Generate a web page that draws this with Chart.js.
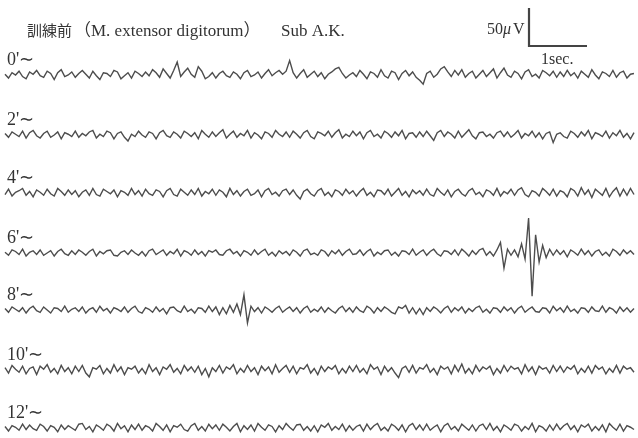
<!DOCTYPE html>
<html>
<head>
<meta charset="utf-8">
<script src="https://cdn.jsdelivr.net/npm/chart.js@4"></script>
<style>
  html, body { margin: 0; padding: 0; background: #ffffff; }
  canvas { display: block; }
</style>
</head>
<body>
<canvas id="emgChart" width="638" height="438"></canvas>
<script>
// EMG traces (uV), one per recording minute, sampled evenly over the sweep
const traceLabels = ["0'", "2'", "4'", "6'", "8'", "10'", "12'"];

const trace0 = [
  1,-4,3,0,5,-2,-5,4,1,6,-1,-3,5,2,-6,3,7,-2,0,4,
  -3,2,6,1,-4,5,-1,-6,3,2,-2,6,4,-5,-1,3,-4,5,2,-2,
  4,-1,7,3,-3,8,2,-4,6,17,-2,4,9,1,-3,11,5,-5,-2,3,
  -4,2,5,-1,-3,4,1,-5,3,6,-2,0,4,-4,2,7,-1,3,6,1,
  5,19,3,-4,2,7,-3,1,5,-2,3,-5,1,4,8,10,2,-4,0,3,
  -2,6,1,-5,4,2,-3,7,-1,-4,5,3,-6,2,6,-1,4,-3,-7,-12,
  2,5,-3,1,8,11,4,-2,6,0,7,-3,2,5,-4,1,6,-2,3,8,
  -4,3,9,0,-3,5,2,-5,4,7,-2,1,-4,6,3,-1,5,-3,4,-2,
  6,-1,3,-4,5,1,-3,7,0,-5,4,2,-2,6,-3,3,5,-4,1,2
];

const trace2 = [
  2,-3,4,1,-2,5,-4,3,6,-1,-4,2,5,-3,0,4,-5,3,1,-2,
  5,-3,2,-1,4,6,-4,1,-2,5,3,-5,2,4,-3,-8,1,-2,5,0,
  -3,4,2,-5,3,6,-1,-3,4,1,-4,5,2,-2,3,-5,6,1,-3,4,
  -2,3,7,-4,1,5,-3,2,-1,6,-4,3,0,-5,4,2,-3,6,1,-2,
  4,-3,5,1,-4,3,6,-2,-5,4,2,-1,5,-3,3,7,-4,1,-2,5,
  -1,4,-5,3,6,-2,1,-4,5,2,-3,4,-1,6,-5,2,3,-3,4,-2,
  5,-1,-7,3,6,-2,4,1,-4,5,-3,2,7,-1,-5,3,4,-2,1,-4,
  3,5,-2,4,-3,1,6,-4,2,-1,5,-3,3,-5,2,4,-10,1,3,-2,
  -4,5,2,-3,4,-1,6,-5,3,1,-2,5,-4,3,-1,6,-3,2,-5,3
];

const trace4 = [
  -2,5,-4,1,3,6,-3,2,-5,4,1,-3,5,-1,-4,6,2,-3,4,-2,
  3,-5,1,4,-3,6,-2,-4,5,2,-1,4,-5,3,1,-3,6,-2,3,-4,
  5,-1,-3,4,2,-5,3,6,-2,-4,5,1,-3,4,-2,6,-4,2,-1,5,
  -3,4,1,-5,6,-2,3,-4,2,5,-3,-1,4,-5,3,6,-2,1,-4,3,
  5,-2,4,-3,-8,2,5,-1,-4,3,6,-3,1,-5,4,2,-3,5,-1,3,
  -4,2,6,-3,1,-5,4,3,-2,5,-4,1,6,-3,2,-5,4,-1,3,-3,
  5,-2,-4,6,1,-3,4,-5,2,5,-1,-4,3,6,-2,1,-5,4,2,-3,
  6,-4,2,-1,5,-3,4,7,-2,-5,3,1,-4,6,2,-3,5,-4,3,1,
  -5,6,3,-4,7,-2,4,-6,5,1,-3,6,-5,2,7,-4,5,-3,6,-2
];

const trace6 = [
  1,-3,4,2,-2,5,-4,1,3,-2,4,-3,0,3,-4,2,5,-1,-3,3,
  -2,4,1,-3,2,5,-4,2,-1,3,4,-3,-4,1,3,-2,4,0,-3,2,
  -4,3,5,-2,1,4,-3,2,-1,5,-4,3,1,-3,4,-2,2,-4,3,1,
  4,-2,-3,3,5,-1,2,-4,3,1,-3,4,-2,2,5,-3,1,-4,3,-1,
  2,-3,4,1,-4,3,5,-2,0,-3,4,2,-4,3,-1,4,-3,2,5,-2,
  -1,4,-3,2,5,-4,1,-2,3,4,-3,1,-4,3,2,-2,5,-3,1,4,
  -3,2,5,-1,-4,3,2,-2,4,-3,5,1,-4,3,-2,4,6,-3,2,-4,
  4,14,-20,5,-3,4,-5,12,-8,46,-57,24,-12,10,-6,5,-3,4,-2,3,
  -5,4,1,-3,5,-2,3,-4,2,4,-3,1,-4,5,2,-3,4,-1,3,-2
];

const trace8 = [
  2,-3,4,1,-2,3,-4,2,5,-1,-3,4,0,-4,3,2,-2,5,-3,1,
  3,-2,4,-4,1,3,-3,5,-1,2,-4,3,1,-2,4,-3,2,5,-2,-4,
  3,1,-3,4,-2,2,-5,3,4,-1,-3,5,-2,1,-4,3,2,-3,5,-2,
  4,-6,3,-5,6,-3,8,-6,20,-17,5,-2,3,-4,4,1,-3,2,5,-3,
  1,4,-2,3,-4,2,5,-3,1,-2,4,-3,3,-1,-4,2,5,-2,3,-3,
  4,-1,-3,5,2,-4,3,-2,4,1,-3,-5,4,2,6,-4,3,-5,2,-6,
  3,-2,4,1,-4,2,5,-3,3,-1,4,-4,2,-2,3,5,-3,1,-4,3,
  2,-3,4,-1,3,-4,2,5,-3,1,4,-2,-3,3,2,-4,5,-1,3,-3,
  5,-2,1,-4,3,2,-3,4,-1,-2,5,-3,3,1,-4,4,-2,3,-3,2
];

const trace10 = [
  3,-4,6,1,-3,5,-5,2,4,-6,5,1,7,-3,2,-5,6,-2,3,-5,
  5,-2,6,-4,-9,3,1,6,-5,2,-4,7,-2,4,-6,3,1,5,-4,2,
  -5,7,-2,3,-6,4,1,7,-3,2,-5,6,-1,4,-3,5,-6,2,-9,3,
  -2,6,-4,4,1,7,-5,2,-3,6,-2,3,-6,5,-1,4,-5,7,-3,2,
  6,-3,5,-5,3,1,7,-4,2,-6,5,-2,4,1,6,-5,2,-4,5,-2,
  6,-3,2,-5,7,1,4,-6,5,-2,3,-4,-10,2,5,-3,6,-4,3,1,
  7,-3,2,-6,5,1,4,-5,6,-2,8,-4,2,-5,6,-2,4,1,5,-6,
  2,-4,6,-2,5,1,3,-5,7,-2,4,-6,5,1,3,-4,6,-2,5,-3,
  4,1,6,-5,2,-3,5,-4,6,1,4,-5,2,-3,6,-4,5,1,3,-3
];

const trace12 = [
  2,-4,3,1,-3,5,-2,4,-1,-3,5,2,-4,3,1,-5,4,-2,3,0,
  -3,5,6,-2,2,-5,4,1,-3,5,2,-4,6,-1,3,-5,4,-2,5,-3,
  3,1,-4,6,2,-3,4,-5,3,1,5,-2,-4,3,6,-3,2,-4,5,-1,
  4,-3,5,1,-4,2,6,-5,3,-2,4,-4,6,1,-3,4,2,-5,3,-2,
  6,1,-3,4,5,-3,2,-4,3,-5,4,1,6,-3,2,-2,5,-4,3,-3,
  2,4,-4,5,-2,3,6,-3,1,-4,5,2,-3,4,-5,3,6,-2,4,-3,
  5,-3,1,4,-5,3,6,-2,2,-4,5,1,-3,4,-4,3,5,-2,6,-3,
  2,-5,4,1,-3,5,3,-4,2,-2,6,-5,3,1,-4,4,-3,5,-2,3,
  6,-2,3,-5,4,1,5,-4,2,-3,4,-5,6,1,-3,5,-4,3,1,-2
];

const traces = [trace0, trace2, trace4, trace6, trace8, trace10, trace12];

// calibration: 50 uV vertical, 1 sec horizontal
const calAmp = 50;
const calTime = 1;

// layout (pixels on the 638x438 page)
const pxPerSec = 58;
const pxPerUv = 38 / 50;
const sweepStartPx = 5;
const sweepEndPx = 634;
const baselinesPx = [75, 135, 193, 253, 310, 370, 428];
const calCornerPx = { x: 529, y: 46 };

const W = 638, H = 438;
const toSec = (px) => (px - sweepStartPx) / pxPerSec;
const toUv = (px) => -px / pxPerUv;

const traceColor = '#4d4d4d';

const datasets = traces.map((vals, k) => {
  const span = toSec(sweepEndPx);
  const base = toUv(baselinesPx[k]);
  return {
    label: traceLabels[k],
    data: vals.map((v, i) => ({ x: i * span / (vals.length - 1), y: base + v })),
    borderColor: traceColor,
    borderWidth: 1.4,
    pointRadius: 0,
    tension: 0,
  };
});

// calibration bar as its own line
const calX = toSec(calCornerPx.x);
const calY = toUv(calCornerPx.y);
datasets.push({
  label: 'cal',
  data: [
    { x: calX, y: calY + calAmp },
    { x: calX, y: calY },
    { x: calX + calTime, y: calY },
  ],
  borderColor: '#444444',
  borderWidth: 2.2,
  pointRadius: 0,
  tension: 0,
});

// text labels drawn on top
const textPlugin = {
  id: 'textLabels',
  afterDraw(chart) {
    const ctx = chart.ctx;
    ctx.save();
    ctx.fillStyle = '#333333';
    ctx.textBaseline = 'alphabetic';
    ctx.textAlign = 'left';

    ctx.font = '15px "Noto Sans CJK JP"';
    ctx.fillText('訓練前', 27, 36);
    ctx.font = '17px "Liberation Serif", "Noto Sans CJK JP"';
    ctx.fillText('（M. extensor digitorum）', 74, 36);
    ctx.fillText('Sub A.K.', 281, 36);

    ctx.font = '16px "Liberation Serif"';
    ctx.fillText('50', 487, 34);
    ctx.font = 'italic 16px "Liberation Serif"';
    ctx.fillText('μ', 503, 34);
    ctx.font = '16px "Liberation Serif"';
    ctx.fillText('V', 513, 34);
    ctx.fillText('1sec.', 541, 64);

    ctx.font = '18px "Liberation Serif"';
    traceLabels.forEach((lab, k) => {
      ctx.fillText(lab + '∼', 7, baselinesPx[k] - 10);
    });
    ctx.restore();
  }
};

new Chart(document.getElementById('emgChart').getContext('2d'), {
  type: 'line',
  data: { datasets: datasets },
  options: {
    responsive: false,
    animation: false,
    layout: { padding: 0 },
    plugins: {
      legend: { display: false },
      tooltip: { enabled: false },
    },
    scales: {
      x: { type: 'linear', display: false, min: toSec(0), max: toSec(W) },
      y: { type: 'linear', display: false, min: toUv(H), max: toUv(0) },
    },
  },
  plugins: [textPlugin],
});
</script>
</body>
</html>
